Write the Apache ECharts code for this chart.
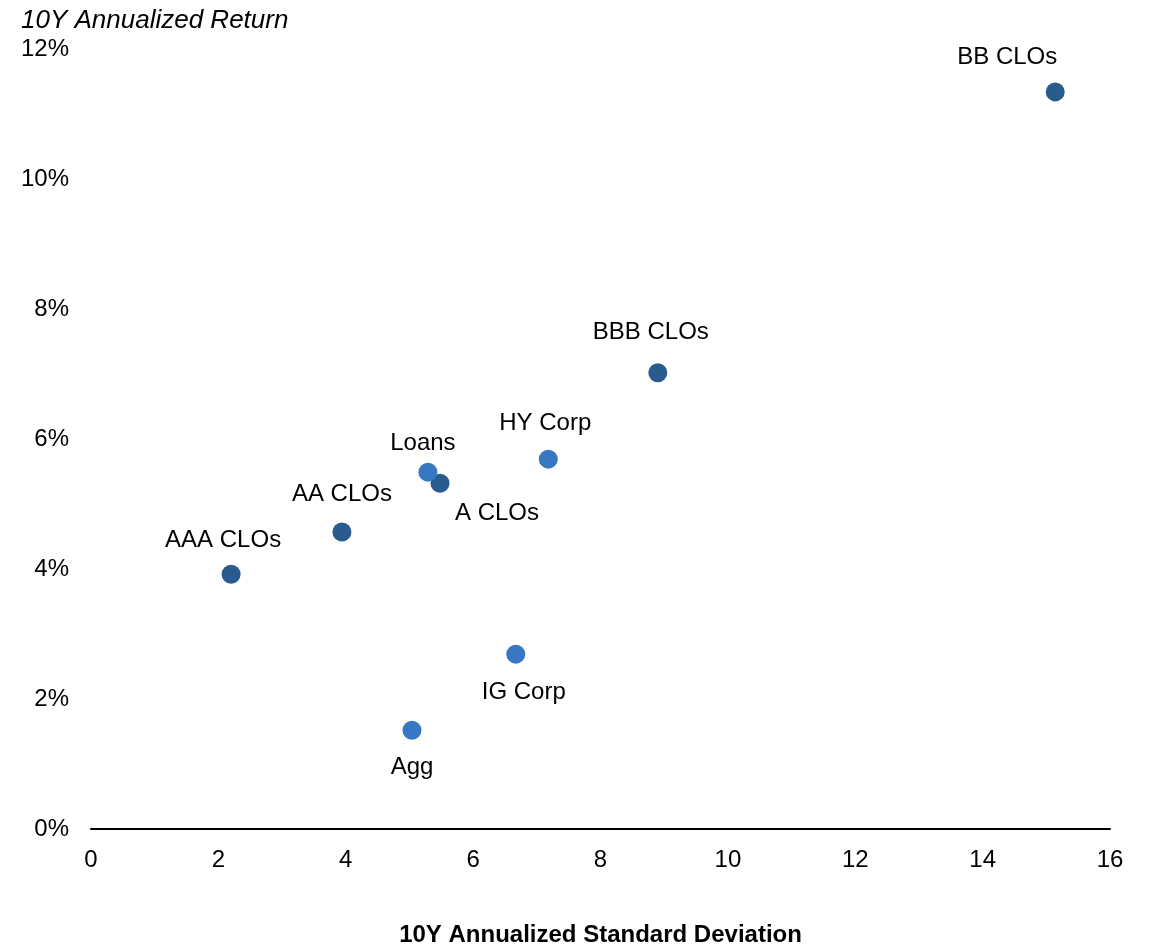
<!DOCTYPE html>
<html>
<head>
<meta charset="utf-8">
<script src="https://cdn.jsdelivr.net/npm/echarts@6/dist/echarts.min.js"></script>
<style>
html,body{margin:0;padding:0;background:#fff;}
#main{width:1157px;height:947px;}
</style>
</head>
<body>
<div id="main"></div>
<script>
const names = ['AAA CLOs','AA CLOs','A CLOs','BBB CLOs','BB CLOs','Loans','HY Corp','IG Corp','Agg'];
const stdDev = [2.20, 3.94, 5.48, 8.90, 15.14, 5.29, 7.18, 6.67, 5.04];
const returns = [3.92, 4.57, 5.32, 7.02, 11.34, 5.49, 5.69, 2.69, 1.52];
const isCLO = [true, true, true, true, true, false, false, false, false];
const xTicks = [0, 2, 4, 6, 8, 10, 12, 14, 16];
const yTicks = [0, 2, 4, 6, 8, 10, 12];

const labelOffsets = {
  'AAA CLOs': [-8, -34], 'AA CLOs': [0, -38], 'A CLOs': [57, 30], 'BBB CLOs': [-7, -40],
  'BB CLOs': [-48, -35], 'Loans': [-5, -29], 'HY Corp': [-3, -36], 'IG Corp': [8, 38], 'Agg': [0, 37]
};

const data = names.map((n, i) => ({
  name: n,
  value: [stdDev[i], returns[i]],
  itemStyle: { color: isCLO[i] ? '#2a5b8e' : '#3877c2', opacity: 1 },
  label: { offset: labelOffsets[n] }
}));

const FONT = "'Liberation Sans', Arial, sans-serif";
const chart = echarts.init(document.getElementById('main'));
chart.setOption({
  animation: false,
  backgroundColor: '#fff',
  title: {
    text: '10Y Annualized Return', left: 16, top: 3,
    textStyle: { fontFamily: FONT, fontStyle: 'italic', fontWeight: 'normal', fontSize: 26, color: '#000' }
  },
  grid: { left: 91, right: 47, top: 49, bottom: 118, outerBoundsMode: 'none', containLabel: false },
  xAxis: {
    type: 'value', min: xTicks[0], max: xTicks[xTicks.length - 1], interval: 2,
    name: '10Y Annualized Standard Deviation', nameLocation: 'middle', nameGap: 94,
    nameTextStyle: { fontFamily: FONT, fontWeight: 'bold', fontSize: 24, color: '#000' },
    axisLine: { show: true, onZero: true, lineStyle: { color: '#000', width: 2 } },
    axisTick: { show: false },
    splitLine: { show: false },
    axisLabel: { margin: 19, fontFamily: FONT, fontSize: 24, color: '#000' }
  },
  yAxis: {
    type: 'value', min: yTicks[0], max: yTicks[yTicks.length - 1], interval: 2,
    axisLine: { show: false }, axisTick: { show: false }, splitLine: { show: false },
    axisLabel: { margin: 22, formatter: '{value}%', fontFamily: FONT, fontSize: 24, color: '#000' }
  },
  series: [{
    type: 'scatter',
    symbolSize: 19,
    data: data,
    itemStyle: { opacity: 1 },
    label: {
      show: true, position: 'inside', formatter: '{b}',
      align: 'center', verticalAlign: 'middle',
      fontFamily: FONT, fontSize: 24, color: '#000', opacity: 1
    }
  }]
});
</script>
</body>
</html>
